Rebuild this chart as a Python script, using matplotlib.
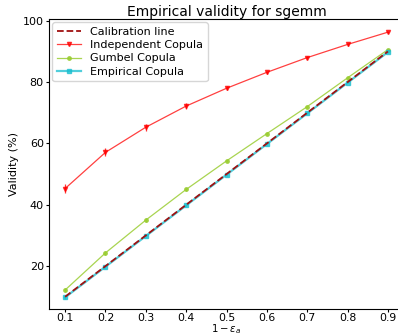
import matplotlib
matplotlib.use("Agg")
import matplotlib.pyplot as plt
import numpy as np

x = [0.1, 0.2, 0.3, 0.4, 0.5, 0.6, 0.7, 0.8, 0.9]
calibration = [10, 20, 30, 40, 50, 60, 70, 80, 90]
independent = [45.3, 57.1, 65.3, 72.2, 78.0, 83.2, 88.0, 92.3, 96.3]
independent_err = [1.6, 1.3, 1.1, 0.9, 0.7, 0.6, 0.5, 0.4, 0.3]
gumbel = [12.2, 24.3, 35.0, 45.0, 54.3, 63.2, 72.0, 81.4, 90.6]
gumbel_err = [0.8, 0.7, 0.6, 0.5, 0.4, 0.4, 0.3, 0.3, 0.3]
empirical = [9.8, 19.8, 29.8, 39.8, 49.8, 59.8, 69.8, 79.8, 89.8]
empirical_err = [0.4, 0.4, 0.4, 0.3, 0.3, 0.3, 0.3, 0.2, 0.2]

fig = plt.figure(figsize=(3.98, 3.36), dpi=100)
bottom_px = 309
ax = fig.add_axes([49/398, 1-bottom_px/336, (404-49)/398, (bottom_px-19)/336])

ax.plot(x, calibration, '--', color='#a01010', lw=1.3, label='Calibration line', zorder=4)

ax.errorbar(x, independent, yerr=independent_err, fmt='none', ecolor='red', elinewidth=0.9, alpha=0.8)
ax.plot(x, independent, color='red', marker='v', ms=3, lw=0.9, alpha=0.75,
        label='Independent Copula')
ax.errorbar(x, gumbel, yerr=gumbel_err, fmt='none', ecolor='yellowgreen', elinewidth=0.9, alpha=0.9)
ax.plot(x, gumbel, color='yellowgreen', marker='o', ms=2.5, lw=0.9, alpha=0.85,
        label='Gumbel Copula')
ax.errorbar(x, empirical, yerr=empirical_err, fmt='none', ecolor='#17becf', elinewidth=1, alpha=0.8, zorder=3)
ax.plot(x, empirical, color='#17becf', marker='s', ms=3, lw=1.6, alpha=0.75,
        label='Empirical Copula', zorder=3)

ax.set_xticks(x)
ax.set_yticks([20, 40, 60, 80, 100])
ax.tick_params(labelsize=8, length=2.5, pad=1.2)
ax.tick_params(axis='x', labelsize=7.8, length=2, pad=1)
ax.set_xlim(0.06, 0.94)
ax.set_ylim(6.0, 100.6)
ax.set_title('Empirical validity for sgemm', fontsize=10, pad=2)
xl = ax.set_xlabel(r'$1-\varepsilon_a$', fontsize=7.3)
xl.set_verticalalignment('bottom')
ax.xaxis.set_label_coords(0.5, (bottom_px - 335.8) / (bottom_px - 19))
ax.set_ylabel('Validity (%)', fontsize=8, labelpad=3)
ax.legend(loc='upper left', fontsize=8, borderaxespad=0.3, handlelength=2.2,
          labelspacing=0.3)

fig.savefig('out.png', dpi=100)
